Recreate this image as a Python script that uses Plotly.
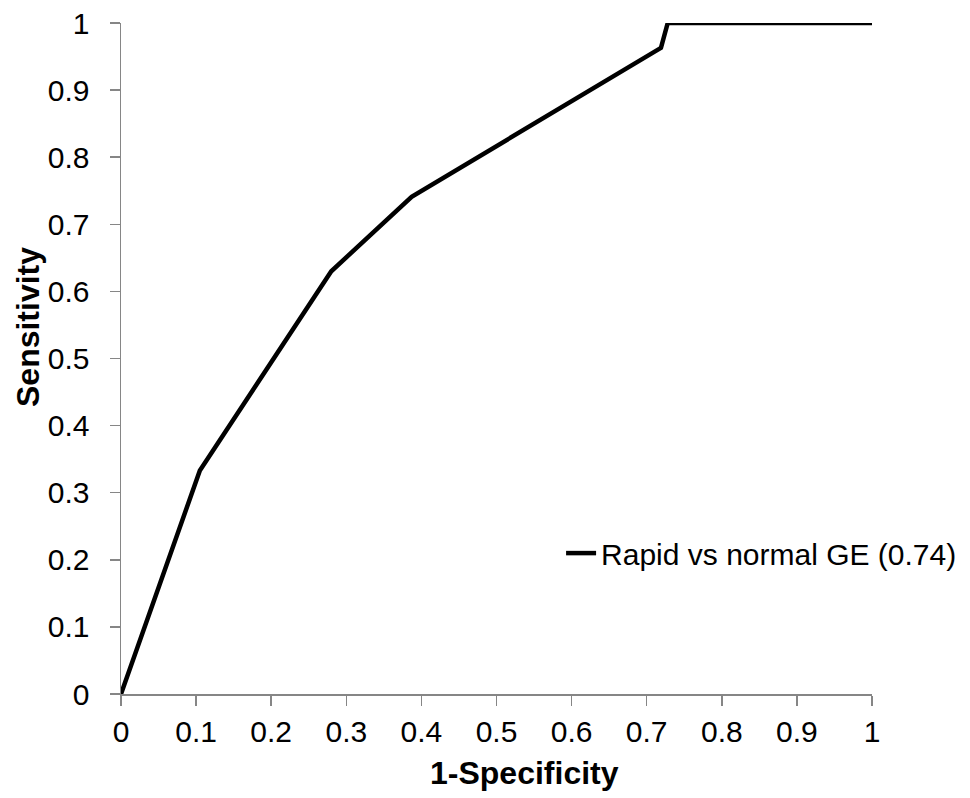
import plotly.graph_objects as go

# ROC curve data
fpr = [0.0, 0.105, 0.280, 0.387, 0.719, 0.728, 1.0]
tpr = [0.0, 0.333, 0.630, 0.741, 0.963, 1.0, 1.0]
series_name = "Rapid vs normal GE (0.74)"
x_title = "1-Specificity"
y_title = "Sensitivity"

FONT = "Liberation Sans, Arial, sans-serif"
AXIS_COLOR = "#868686"

fig = go.Figure()
fig.add_trace(go.Scatter(
    x=fpr, y=tpr, mode="lines", name=series_name,
    line=dict(color="black", width=4.5),
    cliponaxis=False, showlegend=True,
))

axis_common = dict(
    range=[0, 1], dtick=0.1, tick0=0,
    showgrid=False, zeroline=False, automargin=False,
    showline=True, linecolor=AXIS_COLOR, linewidth=1.5,
    ticks="outside", ticklen=10, tickwidth=1.5, tickcolor=AXIS_COLOR,
    tickfont=dict(family=FONT, size=30, color="black"),
    fixedrange=True,
)

fig.update_layout(
    width=970, height=798,
    margin=dict(l=121, r=98, t=23, b=104, autoexpand=False),
    paper_bgcolor="white", plot_bgcolor="white",
    font=dict(family=FONT, color="black"),
    xaxis=dict(**axis_common),
    yaxis=dict(**axis_common, ticklabelstandoff=14),
    showlegend=True,
    legend=dict(
        x=0.586, y=0.21, xanchor="left", yanchor="middle",
        bgcolor="rgba(0,0,0,0)", borderwidth=0,
        font=dict(family=FONT, size=30, color="black"),
    ),
    annotations=[
        dict(text=f"<b>{x_title}</b>", xref="paper", yref="paper",
             x=(524 - 121) / 751, y=-(773 - 694) / 671,
             xanchor="center", yanchor="middle", showarrow=False,
             font=dict(family=FONT, size=32, color="black")),
        dict(text=f"<b>{y_title}</b>", xref="paper", yref="paper",
             x=-(121 - 28) / 751, y=(694 - 327) / 671,
             xanchor="center", yanchor="middle", showarrow=False, textangle=-90,
             font=dict(family=FONT, size=32, color="black")),
    ],
)

fig.write_html(
    "out.html",
    config={"displayModeBar": False, "staticPlot": True},
    post_script="document.body.style.margin='0';document.body.style.overflow='hidden';",
)
